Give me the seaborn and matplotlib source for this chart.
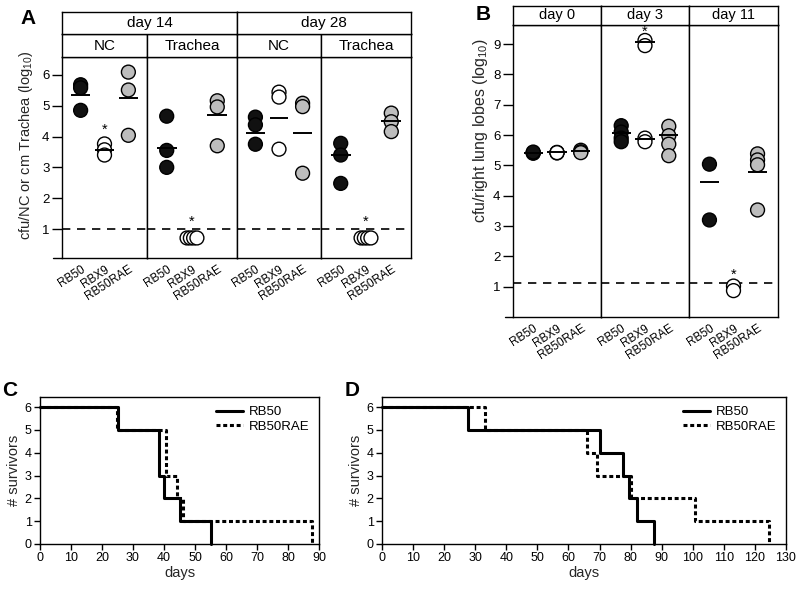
import numpy as np
import pandas as pd
import matplotlib
matplotlib.use("Agg")
import matplotlib.pyplot as plt
from matplotlib.transforms import ScaledTranslation
import seaborn as sns

# ---------------- data ----------------
strains = ["RB50", "RBX9", "RB50RAE"]
strain_colors = {"RB50": "#111111", "RBX9": "#ffffff", "RB50RAE": "#bdbdbd"}

# Panel A (cfu log10), each sublist = RB50, RBX9, RB50RAE
a_day_labels = ["day 14", "day 28"]
a_site_labels = ["NC", "Trachea", "NC", "Trachea"]
a_d14_nc = [[5.68, 5.58, 4.85], [3.76, 3.57, 3.40], [6.09, 5.51, 4.04]]
a_d14_nc_means = [5.36, 3.57, 5.25]
a_d14_nc_stars = [None, 4.22, None]
a_d14_tr = [[4.66, 3.55, 3.00], [0.71, 0.71, 0.71, 0.71], [5.16, 4.96, 3.70]]
a_d14_tr_means = [3.64, None, 4.71]
a_d14_tr_stars = [None, 1.24, None]
a_d28_nc = [[4.63, 4.38, 3.75], [5.44, 5.28, 3.59], [5.08, 4.97, 2.81]]
a_d28_nc_means = [4.11, 4.59, 4.11]
a_d28_nc_stars = [None, None, None]
a_d28_tr = [[3.78, 3.40, 2.48], [0.71, 0.71, 0.71, 0.71], [4.76, 4.48, 4.16]]
a_d28_tr_means = [3.40, None, 4.51]
a_d28_tr_stars = [None, 1.24, None]
a_limit = 1.0

# Panel B (cfu/right lung lobes, log10)
b_day_labels = ["day 0", "day 3", "day 11"]
b_d0 = [[5.40, 5.42, 5.44], [5.41, 5.43, 5.42], [5.50, 5.45, 5.42]]
b_d0_means = [5.41, 5.43, 5.47]
b_d0_stars = [None, None, None]
b_d3 = [[6.31, 6.10, 5.90, 5.78], [9.12, 8.95, 5.90, 5.78], [6.29, 5.98, 5.70, 5.32]]
b_d3_means = [6.06, [9.06, 5.88], 6.01]
b_d3_stars = [None, 9.42, None]
b_d11 = [[5.04, 3.20], [1.02, 0.87], [5.38, 5.18, 5.02, 3.53]]
b_d11_means = [4.46, None, 4.78]
b_d11_stars = [None, 1.40, None]
b_limit = 1.13

# Panels C and D (survival)
c_rb50_days = [0, 25.2, 38.5, 40.1, 45.2, 55.1]
c_rb50_surv = [6, 5, 3, 2, 1, 0]
c_rae_days = [0, 24.7, 40.6, 44.2, 46.1, 87.8]
c_rae_surv = [6, 5, 3, 2, 1, 0]
d_rb50_days = [0, 27.6, 70.0, 77.4, 79.6, 82.0, 87.6]
d_rb50_surv = [6, 5, 4, 3, 2, 1, 0]
d_rae_days = [0, 33.2, 66.1, 69.1, 80.0, 100.7, 124.6]
d_rae_surv = [6, 5, 4, 3, 2, 1, 0]

# ---------------- style ----------------
sns.set_style("white")
plt.rcParams["font.family"] = ["Liberation Sans", "DejaVu Sans"]
plt.rcParams["mathtext.fontset"] = "custom"
plt.rcParams["mathtext.rm"] = "Liberation Sans"
plt.rcParams["mathtext.it"] = "Liberation Sans:italic"
plt.rcParams["axes.edgecolor"] = "black"
plt.rcParams["axes.linewidth"] = 1.0
plt.rcParams["xtick.color"] = "black"
plt.rcParams["ytick.color"] = "black"
plt.rcParams["text.color"] = "black"

W, H = 800, 589
fig = plt.figure(figsize=(W / 100, H / 100), dpi=100)
fig.patch.set_facecolor("white")


def ax_px(x0, y0, x1, y1):
    return fig.add_axes([x0 / W, 1 - y1 / H, (x1 - x0) / W, (y1 - y0) / H])


def header(x0, y0, x1, y1, text, size):
    hx = ax_px(x0, y0, x1, y1)
    hx.set_xticks([])
    hx.set_yticks([])
    for s in hx.spines.values():
        s.set_linewidth(1.0)
        s.set_color("black")
    hx.text(0.5, 0.5, text, ha="center", va="center", fontsize=size,
            transform=hx.transAxes)
    return hx


def strip_panel(ax, groups, means, stars, limit, xlim, ylim):
    rows = []
    for i, (s, vals) in enumerate(zip(strains, groups)):
        vals = np.asarray(vals, float)
        pos = np.full(len(vals), float(i))
        below = vals < limit
        k = int(below.sum())
        if k > 1 and np.ptp(vals[below]) == 0:
            pos[below] = i + (np.arange(k) - (k - 1) / 2) * 0.13
        for p, v in zip(pos, vals):
            rows.append((s, p, v))
    df = pd.DataFrame(rows, columns=["strain", "pos", "val"])
    ax.axhline(limit, color="black", lw=1.2, ls=(0, (5, 4)), zorder=1)
    sns.scatterplot(data=df, x="pos", y="val", hue="strain", hue_order=strains,
                    palette=strain_colors, s=100, edgecolor="black",
                    linewidth=1.0, legend=False, ax=ax, zorder=3)
    for i, m in enumerate(means):
        if m is None:
            continue
        for mm in (m if isinstance(m, list) else [m]):
            ax.hlines(mm, i - 0.4, i + 0.4, color="black", lw=1.4, zorder=4)
    for i, st in enumerate(stars):
        if st is not None:
            ax.text(i, st, "*", ha="center", va="center", fontsize=10.5,
                    zorder=5)
    ax.set_xlim(*xlim)
    ax.set_ylim(*ylim)
    ax.set_xlabel("")
    ax.set_ylabel("")
    ax.set_xticks([0, 1, 2])
    ax.set_xticklabels(strains, rotation=33, ha="right",
                       rotation_mode="anchor", fontsize=8.5)
    off = ScaledTranslation(0.08, 0.0, fig.dpi_scale_trans)
    for lab in ax.get_xticklabels():
        lab.set_transform(lab.get_transform() + off)
    ax.tick_params(axis="x", length=0, pad=4)
    for s in ax.spines.values():
        s.set_linewidth(1.0)
        s.set_color("black")


# ---------------- Panel A ----------------
a_edges = [62, 147, 237, 321, 411]
a_top, a_bot = 57, 258
a_sets = [
    (a_d14_nc, a_d14_nc_means, a_d14_nc_stars),
    (a_d14_tr, a_d14_tr_means, a_d14_tr_stars),
    (a_d28_nc, a_d28_nc_means, a_d28_nc_stars),
    (a_d28_tr, a_d28_tr_means, a_d28_tr_stars),
]
for j, (groups, means, stars) in enumerate(a_sets):
    ax = ax_px(a_edges[j], a_top, a_edges[j + 1], a_bot)
    strip_panel(ax, groups, means, stars, a_limit, (-0.78, 2.78), (0.06, 6.58))
    if j == 0:
        ax.set_yticks([1, 2, 3, 4, 5, 6])
        ax.tick_params(axis="y", left=True, length=7, width=1.0,
                       labelsize=9.5, pad=2)
        ax.set_ylabel(r"cfu/NC or cm Trachea (log$_{10}$)", fontsize=10.5)
        ax.yaxis.set_label_coords(-(62 - 35) / 85, 0.56)
        ax.plot([-9 / 85, 0], [0, 0], transform=ax.transAxes, color="black",
                lw=1.0, clip_on=False)
    else:
        ax.tick_params(axis="y", left=False, labelleft=False)
    header(a_edges[j], 34, a_edges[j + 1], 57, a_site_labels[j], 11)
header(a_edges[0], 12, a_edges[2], 34, a_day_labels[0], 11)
header(a_edges[2], 12, a_edges[4], 34, a_day_labels[1], 11)
fig.text(28 / W, 1 - 18 / H, "A", fontsize=15, fontweight="bold",
         ha="center", va="center")

# ---------------- Panel B ----------------
b_edges = [513, 601, 689, 778]
b_top, b_bot = 25, 317
b_sets = [
    (b_d0, b_d0_means, b_d0_stars),
    (b_d3, b_d3_means, b_d3_stars),
    (b_d11, b_d11_means, b_d11_stars),
]
for j, (groups, means, stars) in enumerate(b_sets):
    ax = ax_px(b_edges[j], b_top, b_edges[j + 1], b_bot)
    strip_panel(ax, groups, means, stars, b_limit, (-0.85, 2.85), (0.0, 9.63))
    if j == 0:
        ax.set_yticks(list(range(1, 10)))
        ax.tick_params(axis="y", left=True, length=7, width=1.0,
                       labelsize=9.5, pad=2)
        ax.set_ylabel(r"cfu/right lung lobes (log$_{10}$)", fontsize=11.5)
        ax.yaxis.set_label_coords(-(513 - 490) / 88, 0.64)
        ax.plot([-8 / 88, 0], [0, 0], transform=ax.transAxes, color="black",
                lw=1.0, clip_on=False)
    else:
        ax.tick_params(axis="y", left=False, labelleft=False)
    header(b_edges[j], 6, b_edges[j + 1], 25, b_day_labels[j], 10.5)
fig.text(483 / W, 1 - 15 / H, "B", fontsize=15, fontweight="bold",
         ha="center", va="center")

# ---------------- Panels C and D ----------------
def survival_panel(ax, rb_days, rb_surv, rae_days, rae_surv, xmax, xticks):
    sns.lineplot(x=rb_days, y=rb_surv, drawstyle="steps-post", color="black",
                 lw=2.2, ax=ax, label="RB50", clip_on=False)
    sns.lineplot(x=rae_days, y=rae_surv, drawstyle="steps-post", color="black",
                 lw=2.2, ls=(0, (1.3, 0.9)), ax=ax, label="RB50RAE",
                 clip_on=False)
    ax.set_xlim(0, xmax)
    ax.set_ylim(0, 6.44)
    ax.set_xticks(xticks)
    ax.set_yticks(range(0, 7))
    ax.tick_params(axis="both", bottom=True, left=True, direction="out",
                   length=4, width=1.0, labelsize=9, pad=2)
    ax.set_xlabel("days", fontsize=10.5, labelpad=1)
    ax.set_ylabel("# survivors", fontsize=10.5, labelpad=3)
    for s in ax.spines.values():
        s.set_linewidth(1.0)
        s.set_color("black")
    leg = ax.legend(loc="upper right", frameon=False, fontsize=9.5,
                    handlelength=2.0, handletextpad=0.5, borderaxespad=0.3,
                    labelspacing=0.15)
    return leg


axc = ax_px(40, 397, 319, 544)
survival_panel(axc, c_rb50_days, c_rb50_surv, c_rae_days, c_rae_surv, 90,
               list(range(0, 91, 10)))
axd = ax_px(382, 397, 786, 544)
survival_panel(axd, d_rb50_days, d_rb50_surv, d_rae_days, d_rae_surv, 130,
               list(range(0, 131, 10)))
fig.text(10 / W, 1 - 390 / H, "C", fontsize=15, fontweight="bold",
         ha="center", va="center")
fig.text(352 / W, 1 - 390 / H, "D", fontsize=15, fontweight="bold",
         ha="center", va="center")

fig.savefig("out.png", dpi=100, facecolor="white")
